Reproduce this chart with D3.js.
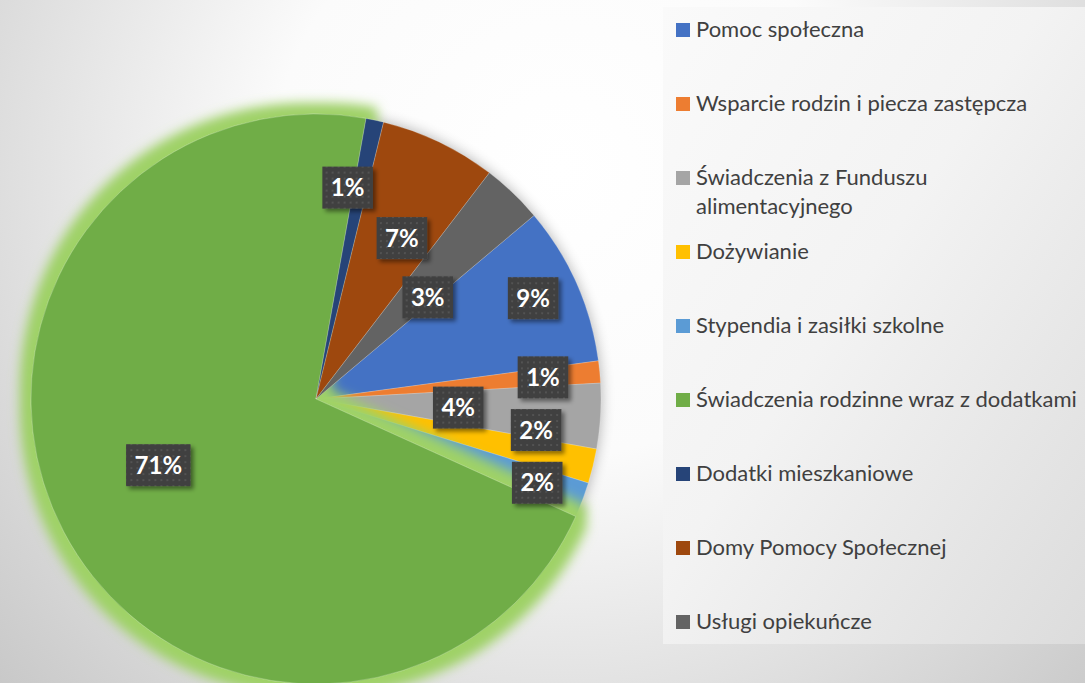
<!DOCTYPE html>
<html>
<head>
<meta charset="utf-8">
<script src="https://cdn.jsdelivr.net/npm/d3@7"></script>
<style>
  body { margin: 0; overflow: hidden; }
  svg { display: block; }
</style>
</head>
<body>
<script>
// Data (shares in percent, in Excel's series order)
var categories = [
  "Pomoc społeczna",
  "Wsparcie rodzin i piecza zastępcza",
  "Świadczenia z Funduszu alimentacyjnego",
  "Dożywianie",
  "Stypendia i zasiłki szkolne",
  "Świadczenia rodzinne wraz z dodatkami",
  "Dodatki mieszkaniowe",
  "Domy Pomocy Społecznej",
  "Usługi opiekuńcze"
];
var shares = [9.0, 1.25, 3.7, 1.95, 2.0, 71.05, 1.0, 6.6, 3.45];
var colors = ["#4472c4", "#ed7d31", "#a5a5a5", "#ffc000", "#5b9bd5",
              "#70ad47", "#264478", "#9e480e", "#636363"];
// legend wraps the third entry onto two lines
var legendLines = [
  ["Pomoc społeczna"],
  ["Wsparcie rodzin i piecza zastępcza"],
  ["Świadczenia z Funduszu", "alimentacyjnego"],
  ["Dożywianie"],
  ["Stypendia i zasiłki szkolne"],
  ["Świadczenia rodzinne wraz z dodatkami"],
  ["Dodatki mieszkaniowe"],
  ["Domy Pomocy Społecznej"],
  ["Usługi opiekuńcze"]
];

// layout ("best fit" label placement from the original)
var labelRadius = [0.84, 0.80, 0.50, 0.78, 0.83, 0.60, 0.75, 0.64, 0.53];
var labelShift = [-1, 0, 0, -5.6, 0, 5, -3.4, 2.5, 4]; // degrees

var width = 1085, height = 683;
var cx = 316, cy = 399, radius = 285;
var startDeg = 49.9;

var svg = d3.select("body").append("svg")
    .attr("width", width)
    .attr("height", height);

var defs = svg.append("defs");

// page background
var bg = defs.append("radialGradient").attr("id", "bg")
    .attr("gradientUnits", "userSpaceOnUse")
    .attr("cx", 560).attr("cy", 170).attr("r", 820);
bg.append("stop").attr("offset", "0%").attr("stop-color", "#ffffff");
bg.append("stop").attr("offset", "35%").attr("stop-color", "#fbfbfb");
bg.append("stop").attr("offset", "100%").attr("stop-color", "#c2c2c2");

var lg = defs.append("linearGradient").attr("id", "legendBg")
    .attr("x1", "0%").attr("y1", "0%").attr("x2", "100%").attr("y2", "100%");
lg.append("stop").attr("offset", "0%").attr("stop-color", "#fafafa");
lg.append("stop").attr("offset", "45%").attr("stop-color", "#f3f3f3");
lg.append("stop").attr("offset", "100%").attr("stop-color", "#dcdcdc");

// green glow
var glow = defs.append("filter").attr("id", "glow")
    .attr("x", "-20%").attr("y", "-20%").attr("width", "140%").attr("height", "140%");
glow.append("feMorphology").attr("in", "SourceAlpha").attr("operator", "dilate")
    .attr("radius", 11).attr("result", "dil");
glow.append("feGaussianBlur").attr("in", "dil").attr("stdDeviation", 6).attr("result", "blur");
glow.append("feFlood").attr("flood-color", "#9fd267").attr("flood-opacity", 1);
glow.append("feComposite").attr("in2", "blur").attr("operator", "in").attr("result", "g");
var gm = glow.append("feMerge");
gm.append("feMergeNode").attr("in", "g");
gm.append("feMergeNode").attr("in", "SourceGraphic");

// soft shadow around the whole pie
defs.append("filter").attr("id", "pieShadow")
    .attr("x", "-20%").attr("y", "-20%").attr("width", "140%").attr("height", "140%")
  .append("feGaussianBlur").attr("stdDeviation", 7);

// label box shadow
defs.append("filter").attr("id", "boxShadow")
    .attr("x", "-30%").attr("y", "-30%").attr("width", "170%").attr("height", "170%")
  .append("feDropShadow").attr("dx", 3).attr("dy", 3).attr("stdDeviation", 2)
    .attr("flood-color", "#000").attr("flood-opacity", 0.45);

// dotted texture of the label boxes
var pat = defs.append("pattern").attr("id", "dots")
    .attr("patternUnits", "userSpaceOnUse").attr("width", 6).attr("height", 6);
pat.append("rect").attr("width", 6).attr("height", 6).attr("fill", "#404040");
pat.append("circle").attr("cx", 3).attr("cy", 3).attr("r", 0.9).attr("fill", "#5a5a5a");

svg.append("rect")
    .attr("width", width).attr("height", height)
    .attr("fill", "url(#bg)");

// pie
var pie = d3.pie().sort(null)
    .startAngle(startDeg * Math.PI / 180)
    .endAngle(startDeg * Math.PI / 180 + 2 * Math.PI);
var arcs = pie(shares);
var arc = d3.arc().innerRadius(0).outerRadius(radius);

var g = svg.append("g").attr("transform", "translate(" + cx + "," + cy + ")");

g.append("circle").attr("r", radius)
    .attr("fill", "#000").attr("opacity", 0.3)
    .attr("filter", "url(#pieShadow)");

g.selectAll(".slice")
    .data(arcs)
    .enter().append("path")
    .attr("class", "slice")
    .attr("d", arc)
    .attr("fill", function(d, i) { return colors[i]; })
    .attr("stroke", "rgba(255,255,255,0.35)")
    .attr("stroke-width", 0.6)
    .attr("filter", function(d, i) { return i === 5 ? "url(#glow)" : null; });

// data labels
var total = d3.sum(shares);
var fmt = d3.format(".0%");
var labels = g.selectAll(".lbl")
    .data(arcs)
    .enter().append("g")
    .attr("class", "lbl")
    .attr("transform", function(d, i) {
      var a = (d.startAngle + d.endAngle) / 2 + labelShift[i] * Math.PI / 180;
      var r = radius * labelRadius[i];
      return "translate(" + (r * Math.sin(a)) + "," + (-r * Math.cos(a)) + ")";
    });

labels.append("rect").attr("class", "box");
labels.append("text")
    .attr("text-anchor", "middle")
    .attr("dy", "0.36em")
    .attr("fill", "#ffffff")
    .style("font-family", "Lato, 'Open Sans', sans-serif")
    .style("font-weight", "bold")
    .style("font-size", "24px")
    .text(function(d) { return fmt(d.value / total); });

labels.each(function() {
  var t = d3.select(this).select("text").node();
  var w = t.getComputedTextLength() + 17;
  var h = 42;
  d3.select(this).select("rect")
      .attr("x", -w / 2).attr("y", -h / 2)
      .attr("width", w).attr("height", h)
      .attr("fill", "url(#dots)")
      .attr("filter", "url(#boxShadow)");
});

// legend
svg.append("rect")
    .attr("x", 663).attr("y", 7)
    .attr("width", width - 663).attr("height", 637)
    .attr("fill", "url(#legendBg)");

var legend = svg.append("g").attr("transform", "translate(676,30)");
var item = legend.selectAll(".item")
    .data(categories)
    .enter().append("g")
    .attr("class", "item")
    .attr("transform", function(d, i) { return "translate(0," + (i * 74) + ")"; });

item.append("rect")
    .attr("x", 0).attr("y", -7)
    .attr("width", 14).attr("height", 14)
    .attr("fill", function(d, i) { return colors[i]; });

item.append("text")
    .attr("x", 20)
    .attr("y", 7)
    .attr("fill", "#404040")
    .style("font-family", "Lato, 'Open Sans', sans-serif")
    .style("font-size", "22px")
    .selectAll("tspan")
    .data(function(d, i) { return legendLines[i]; })
    .enter().append("tspan")
    .attr("x", 20)
    .attr("dy", function(d, j) { return j === 0 ? 0 : 29; })
    .text(function(d) { return d; });
</script>
</body>
</html>
